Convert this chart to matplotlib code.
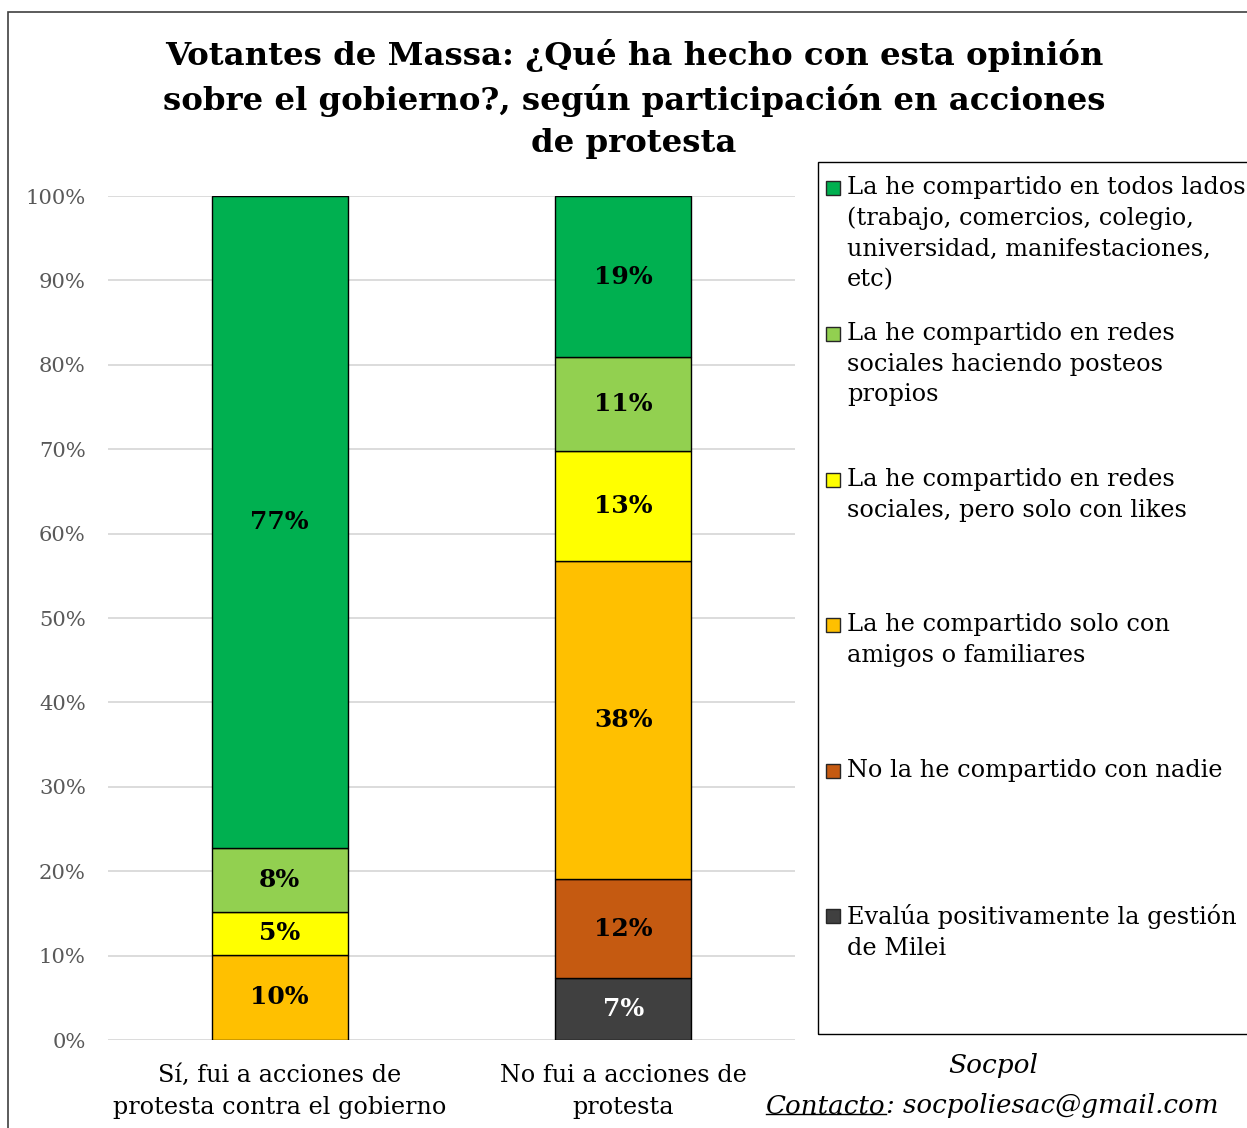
import numpy as np
import matplotlib.pyplot as plt
from matplotlib.patches import Rectangle
from matplotlib.lines import Line2D

plt.rcParams['font.family'] = ['DejaVu Serif']

categorias = ['Sí, fui a acciones de\nprotesta contra el gobierno',
              'No fui a acciones de\nprotesta']
series = ['Evalúa positivamente la gestión\nde Milei',
          'No la he compartido con nadie',
          'La he compartido solo con\namigos o familiares',
          'La he compartido en redes\nsociales, pero solo con likes',
          'La he compartido en redes\nsociales haciendo posteos\npropios',
          'La he compartido en todos lados\n(trabajo, comercios, colegio,\nuniversidad, manifestaciones,\netc)']
colores = ['#404040', '#C55A11', '#FFC000', '#FFFF00', '#92D050', '#00B050']
valores = [
    [0.0, 7.3],
    [0.0, 11.8],
    [10.1, 37.7],
    [5.1, 13.0],
    [7.6, 11.1],
    [77.2, 19.1],
]
etiquetas = [
    ['', '7%'],
    ['', '12%'],
    ['10%', '38%'],
    ['5%', '13%'],
    ['8%', '11%'],
    ['77%', '19%'],
]

W, H = 1247, 1128
fig = plt.figure(figsize=(W / 100, H / 100), dpi=100)

# marco exterior
fig.patches.append(Rectangle((8 / W, -0.1), 1.2, 1 - 12 / H + 0.1, transform=fig.transFigure,
                             fill=False, edgecolor='#404040', linewidth=1.2))

ax = fig.add_axes([108 / W, 1 - 1040 / H, (795 - 108) / W, (1040 - 196) / H])
x = np.arange(len(categorias))
base = np.zeros(len(categorias))
for vals, col, labs in zip(valores, colores, etiquetas):
    vals = np.array(vals)
    ax.bar(x, vals, 0.396, bottom=base, color=col, edgecolor='black', linewidth=1, zorder=3)
    for xi, v, b, lab in zip(x, vals, base, labs):
        if lab:
            ax.text(xi, b + v / 2, lab, ha='center', va='center', fontsize=18,
                    fontweight='bold', color='black' if col != '#404040' else 'white', zorder=4)
    base = base + vals

ax.set_xlim(-0.5, 1.5)
ax.set_ylim(0, 100)
ax.set_yticks(np.arange(0, 101, 10))
ax.set_yticklabels([f'{v}%' for v in range(0, 101, 10)])
ax.set_xticks(x)
ax.set_xticklabels(categorias, fontsize=17.2, linespacing=1.5)
ax.tick_params(axis='y', colors='#595959', labelsize=15.2, length=0, pad=16)
ax.tick_params(axis='x', length=0, pad=17)
ax.yaxis.grid(True, color='#d9d9d9', linewidth=1.3, zorder=0)
for s in ax.spines.values():
    s.set_visible(False)

fig.text(634 / W, 1 - 99 / H,
         'Votantes de Massa: ¿Qué ha hecho con esta opinión\nsobre el gobierno?, según participación en acciones\nde protesta',
         ha='center', va='center', fontsize=23.3, fontweight='bold', linespacing=1.46)

# leyenda
fig.patches.append(Rectangle((818 / W, 1 - 1034 / H), 1.0, (1034 - 162) / H,
                             transform=fig.transFigure, fill=False, edgecolor='black', linewidth=1))
ys = [188, 334, 480, 625, 771, 916]
for yy, lab, col in zip(ys, series[::-1], colores[::-1]):
    fig.patches.append(Rectangle((826 / W, 1 - (yy + 7) / H), 14 / W, 14 / H,
                                 transform=fig.transFigure, facecolor=col,
                                 edgecolor='#262626', linewidth=1))
    fig.text(847 / W, 1 - (yy - 12) / H, lab, ha='left', va='top', fontsize=17.3, linespacing=1.42)

fig.text(993 / W, 1 - 1066 / H, 'Socpol', ha='center', va='center', fontsize=19, style='italic')
t1 = fig.text(766 / W, 1 - 1106 / H, 'Contacto', ha='left', va='center', fontsize=18.8, style='italic')
r = fig.canvas.get_renderer()
bb = t1.get_window_extent(r).transformed(fig.transFigure.inverted())
fig.add_artist(Line2D([bb.x0, bb.x1], [bb.y0 + 0.004, bb.y0 + 0.004], color='black',
                      linewidth=1, transform=fig.transFigure))
fig.text(bb.x1, 1 - 1106 / H, ': socpoliesac@gmail.com', ha='left', va='center',
         fontsize=18.8, style='italic')

fig.savefig('out.png', dpi=100)
